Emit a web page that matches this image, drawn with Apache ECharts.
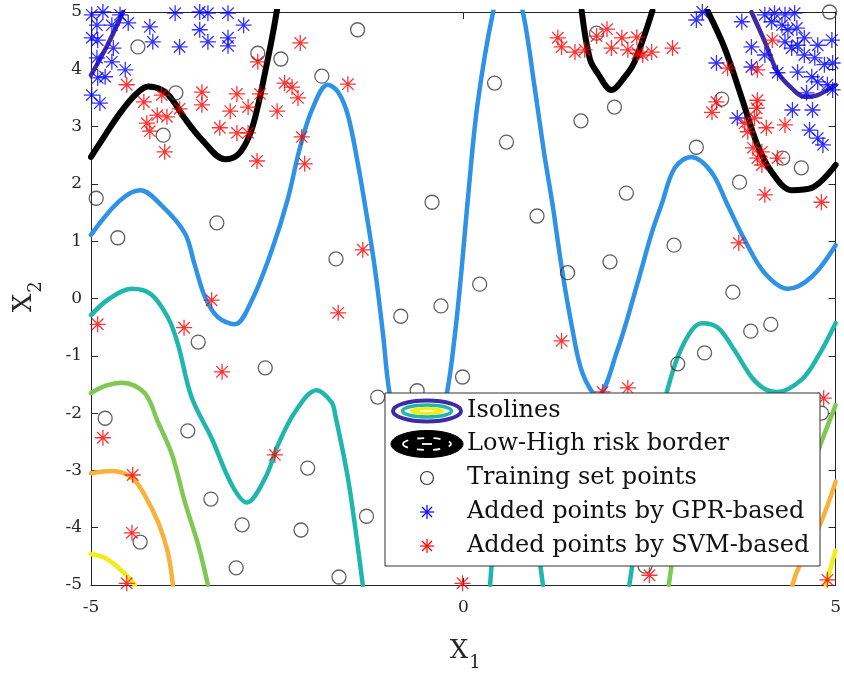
<!DOCTYPE html>
<html><head><meta charset="utf-8">
<script src="https://cdn.jsdelivr.net/npm/echarts@6/dist/echarts.min.js"></script>
<style>html,body{margin:0;padding:0;background:#fff}#c{width:844px;height:677px}</style>
</head><body><div id="c"></div>
<script>
// ---- axis settings ----
const xRange = [-5, 5];
const yRange = [-5, 5];
const xTickStep = 5;
const yTickStep = 1;

// ---- legend labels ----
const legendLabels = ['Isolines', 'Low-High risk border', 'Training set points',
  'Added points by GPR-based', 'Added points by SVM-based'];

// ---- isolines ----
const isoPurpleA = [[-5,3.90],[-4.78,4.42],[-4.57,5.0]];
const isoPurpleB = [[3.87,5.0],[4.05,4.48],[4.22,3.95],[4.41,3.67],[4.58,3.52],[4.76,3.55],[5.0,3.73]];
const borderA = [[-5,2.47],[-4.81,2.85],[-4.63,3.20],[-4.41,3.55],[-4.23,3.70],[-4.05,3.64],[-3.92,3.49],[-3.74,3.14],[-3.51,2.77],[-3.20,2.43],[-3.02,2.52],[-2.87,2.85],[-2.76,3.35],[-2.66,3.96],[-2.57,4.54],[-2.50,5.05]];
const borderB = [[1.59,5.02],[1.70,4.18],[1.81,3.92],[1.99,3.64],[2.17,3.87],[2.30,4.13],[2.54,5.02]];
const borderC = [[3.28,5.02],[3.51,4.37],[3.74,3.50],[3.95,2.68],[4.14,2.21],[4.41,1.89],[4.68,1.93],[5.0,2.33]];
const isoBlue = [[-5,1.11],[-4.62,1.70],[-4.34,1.89],[-4.05,1.62],[-3.74,1.14],[-3.61,0.60],[-3.47,0.03],[-3.30,-0.32],[-3.07,-0.45],[-2.84,-0.03],[-2.57,0.85],[-2.36,1.72],[-2.20,2.60],[-2.03,3.30],[-1.82,3.73],[-1.68,3.60],[-1.55,3.20],[-1.42,2.38],[-1.32,1.63],[-1.19,0.55],[-1.08,-0.60],[-0.99,-1.65],[-0.80,-2.7],[-0.60,-3.0],[-0.40,-2.6],[-0.22,-1.65],[-0.11,-0.60],[-0.02,0.55],[0.06,1.72],[0.19,3.38],[0.40,5.0],[0.60,5.9],[0.80,5.0],[0.96,3.67],[1.09,2.50],[1.20,1.63],[1.32,0.55],[1.46,-0.50],[1.60,-1.30],[1.80,-1.70],[2.07,-0.90],[2.34,0.27],[2.53,1.14],[2.66,1.63],[2.84,2.28],[3.06,2.47],[3.33,2.21],[3.55,1.63],[3.78,1.02],[4.05,0.44],[4.36,0.17],[4.68,0.38],[5.0,0.93]];
const isoTealA = [[-5,-0.29],[-4.75,0.0],[-4.45,0.17],[-4.19,0.07],[-3.96,-0.35],[-3.83,-0.81],[-3.65,-1.72],[-3.38,-2.44],[-3.11,-3.25],[-2.91,-3.56],[-2.66,-3.13],[-2.49,-2.56],[-2.26,-1.98],[-1.97,-1.60],[-1.77,-1.81],[-1.72,-2.03],[-1.55,-3.13],[-1.42,-4.30],[-1.35,-5.0]];
const isoTealB = [[0.36,-5.0],[0.48,-3.6],[0.70,-2.7],[0.90,-3.6],[1.07,-5.0]];
const isoTealC = [[2.23,-5.0],[2.40,-3.6],[2.58,-2.4],[2.73,-1.65],[2.88,-1.02],[3.07,-0.55],[3.21,-0.43],[3.42,-0.51],[3.64,-0.90],[3.87,-1.37],[4.05,-1.58],[4.22,-1.63],[4.54,-1.42],[4.76,-1.02],[5.0,-0.43]];
const isoGreenA = [[-5,-1.65],[-4.80,-1.52],[-4.58,-1.47],[-4.28,-1.65],[-4.10,-2.16],[-3.91,-2.73],[-3.74,-3.55],[-3.56,-4.30],[-3.43,-5.0]];
const isoGreenB = [[2.76,-5.0],[2.95,-3.7],[3.25,-2.9],[3.6,-3.2],[4.2,-3.9],[4.55,-3.4],[4.81,-2.50],[5.0,-1.86]];
const isoOrangeA = [[-5,-3.05],[-4.72,-3.01],[-4.45,-3.13],[-4.28,-3.43],[-4.10,-3.90],[-3.97,-4.42],[-3.90,-5.0]];
const isoOrangeB = [[4.42,-5.0],[4.49,-4.74],[4.79,-3.95],[5.0,-3.20]];
const isoYellowA = [[-5,-4.46],[-4.81,-4.53],[-4.64,-4.69],[-4.50,-4.86],[-4.41,-5.0]];
const isoYellowB = [[4.87,-5.0],[4.95,-4.62],[5.0,-4.40]];

// ---- training set points ----
const trainingPoints = [[-4.37,4.39],[-2.76,4.28],[-2.45,4.18],[-1.90,3.88],[-3.86,3.59],[-4.03,2.85],[-4.93,1.75],[-1.42,4.69],[0.42,3.76],[0.58,2.73],[1.58,3.10],[-0.42,1.68],[4.92,5.0],[1.79,4.63],[2.03,3.34],[3.47,3.48],[3.13,2.64],[4.29,2.45],[4.54,2.28],[3.71,2.03],[2.19,1.84],[-4.64,1.06],[-3.31,1.32],[-1.71,0.69],[-3.56,-0.76],[-2.66,-1.21],[0.99,1.44],[1.40,0.45],[0.22,0.25],[-0.30,-0.13],[-0.84,-0.31],[-0.01,-1.37],[-0.62,-1.61],[-1.15,-1.72],[1.97,0.64],[2.83,0.93],[3.62,0.11],[3.86,-0.57],[4.13,-0.45],[3.24,-0.95],[2.88,-1.14],[-4.81,-2.09],[-3.70,-2.31],[-2.09,-2.96],[-3.39,-3.50],[-2.97,-3.95],[-2.18,-4.04],[-4.34,-4.25],[-3.05,-4.70],[-1.67,-4.86],[-1.30,-3.80],[4.81,-2.00],[2.44,-4.67]];

// ---- added points, GPR-based ----
const gprPoints = [[-4.99,4.95],[-4.84,5.0],[-4.61,4.95],[-4.50,4.81],[-4.21,4.74],[-4.92,4.77],[-4.72,4.77],[-4.99,4.55],[-4.91,4.51],[-4.70,4.37],[-4.92,4.20],[-4.72,4.13],[-4.81,3.87],[-4.54,3.99],[-4.91,3.85],[-4.99,3.55],[-4.88,3.41],[-4.17,4.48],[-3.81,4.39],[-3.87,4.98],[-3.54,5.0],[-3.43,4.98],[-3.16,4.98],[-2.95,4.77],[-3.54,4.69],[-3.43,4.48],[-3.16,4.55],[-3.16,4.41],
  [3.21,5.0],[3.13,4.86],[3.74,4.83],[4.05,4.95],[4.18,4.98],[4.32,4.95],[4.45,4.98],[4.14,4.83],[4.28,4.77],[4.36,4.69],[4.48,4.72],[4.58,4.55],[4.76,4.42],[4.95,4.51],[3.87,4.39],[4.05,4.25],[4.32,4.48],[4.41,4.37],[4.49,4.42],[4.58,4.25],[4.72,4.20],[4.85,4.08],[4.96,4.11],[3.40,4.11],[3.87,4.04],[4.22,3.94],[4.49,3.95],[4.68,3.87],[4.76,3.78],[4.89,3.73],[4.96,3.64],[4.61,3.59],[4.42,3.29],[4.69,3.29],[3.68,3.15],[4.65,2.94],[4.76,2.80],[4.83,2.68]];

// ---- added points, SVM-based ----
const svmPoints = [[-2.19,4.46],[-2.76,4.13],[-4.52,3.73],[-4.29,3.43],[-4.05,3.55],[-3.81,3.31],[-4.11,3.20],[-3.98,3.17],[-4.25,3.06],[-4.21,2.92],[-3.51,3.60],[-3.51,3.38],[-3.04,3.57],[-3.13,3.27],[-2.89,3.34],[-2.73,3.57],[-3.27,2.98],[-3.04,2.89],[-2.89,2.89],[-4.01,2.56],[-2.77,2.40],[-2.50,3.27],[-2.40,3.76],[-2.30,3.69],[-2.22,3.50],[-2.17,2.82],[-2.13,2.35],[-1.55,3.74],
  [1.27,4.55],[1.32,4.39],[1.50,4.30],[1.63,4.34],[1.93,4.70],[1.79,4.58],[2.13,4.55],[2.33,4.56],[1.99,4.37],[2.21,4.34],[2.34,4.28],[2.41,4.25],[2.53,4.30],[2.81,4.37],[4.15,4.51],[3.55,4.02],[3.95,3.99],[3.40,3.43],[3.34,3.25],[3.95,3.46],[3.94,3.32],[3.91,3.15],[3.78,3.06],[3.82,2.91],[4.07,2.98],[4.32,3.03],[3.89,2.63],[4.01,2.56],[3.95,2.45],[4.01,2.33],[4.22,2.45],[4.05,1.81],[4.81,1.68],[3.70,0.97],[1.87,-1.63],[2.21,-1.56],
  [-3.38,-0.03],[-4.91,-0.45],[-3.75,-0.51],[-3.24,-1.28],[-1.68,-0.25],[-1.35,0.85],[1.32,-0.74],[-4.84,-2.43],[-4.44,-3.08],[-4.45,-4.09],[-4.52,-4.97],[-2.53,-2.73],[-0.01,-4.97],[4.84,-1.74],[2.50,-4.83],[4.89,-4.91]];

// ---- colours ----
const C = {purple:'#3e2aa6', blue:'#2e93e6', teal:'#1fb7ad', green:'#7fc852', orange:'#f8b23a', yellow:'#f1ec1a', black:'#000000'};
const FONT = 'DejaVu Serif';
const STAR = 'path://M7,0L7,14M0,7L14,7M2,2L12,12M2,12L12,2';

function iso(data, color, width) {
  return {type:'line', data:data, smooth:0.35, symbol:'none', showSymbol:false, clip:true, silent:true,
    lineStyle:{color:color, width:width, cap:'round', join:'round'}, z:2};
}

const chart = echarts.init(document.getElementById('c'), null, {renderer:'canvas'});
const axisCommon = {
  type:'value', splitLine:{show:false},
  axisLine:{show:true, onZero:false, lineStyle:{color:'#262626', width:1}},
  axisTick:{show:true, inside:true, length:7, lineStyle:{color:'#262626'}}
};
const legendY = [411, 444, 478, 512, 546];
const LX = 427, TX = 467;
function starIcon(cx, cy, color) {
  const r = 7, d = 5, out = [];
  [[0,-r,0,r],[-r,0,r,0],[-d,-d,d,d],[-d,d,d,-d]].forEach(function(s){
    out.push({type:'line', z:101, shape:{x1:cx+s[0], y1:cy+s[1], x2:cx+s[2], y2:cy+s[3]}, style:{stroke:color, lineWidth:1.2}});
  });
  return out;
}
let graphics = [
  {type:'rect', z:100, shape:{x:385, y:393, width:435, height:173}, style:{fill:'#fff', stroke:'#333', lineWidth:1}},
  {type:'ellipse', z:101, shape:{cx:LX, cy:legendY[0], rx:34, ry:10.5}, style:{fill:'none', stroke:C.purple, lineWidth:4}},
  {type:'ellipse', z:101, shape:{cx:LX, cy:legendY[0], rx:24.5, ry:6}, style:{fill:'none', stroke:C.teal, lineWidth:3.5}},
  {type:'ellipse', z:101, shape:{cx:LX, cy:legendY[0], rx:17, ry:3.6}, style:{fill:C.yellow, stroke:C.yellow, lineWidth:1}},
  {type:'line', z:102, shape:{x1:LX-7, y1:legendY[0], x2:LX+7, y2:legendY[0]}, style:{stroke:'#fff', lineWidth:1.5}},
  {type:'ellipse', z:101, shape:{cx:LX, cy:legendY[1], rx:36, ry:13.5}, style:{fill:'#000', stroke:'#000', lineWidth:1}},
  {type:'ellipse', z:102, shape:{cx:LX, cy:legendY[1], rx:24, ry:6}, style:{fill:'none', stroke:'#fff', lineWidth:1.8, lineDash:[7,9]}},
  {type:'line', z:102, shape:{x1:LX-5, y1:legendY[1], x2:LX+5, y2:legendY[1]}, style:{stroke:'#fff', lineWidth:1.8}},
  {type:'circle', z:101, shape:{cx:LX, cy:legendY[2], r:6.5}, style:{fill:'none', stroke:'#333', lineWidth:1.2}},
  // axis names
  {type:'text', z:100, x:459, y:651, style:{text:'X', fontFamily:FONT, fontSize:26, fill:'#262626', textAlign:'center', textVerticalAlign:'middle'}},
  {type:'text', z:100, x:475, y:663, style:{text:'1', fontFamily:FONT, fontSize:18, fill:'#262626', textAlign:'center', textVerticalAlign:'middle'}},
  {type:'text', z:100, x:24, y:303, rotation:Math.PI/2, style:{text:'X', fontFamily:FONT, fontSize:26, fill:'#262626', textAlign:'center', textVerticalAlign:'middle'}},
  {type:'text', z:100, x:36, y:287, rotation:Math.PI/2, style:{text:'2', fontFamily:FONT, fontSize:18, fill:'#262626', textAlign:'center', textVerticalAlign:'middle'}}
];
graphics = graphics.concat(starIcon(LX, legendY[3], '#0000ff'), starIcon(LX, legendY[4], '#ff0000'));
legendLabels.forEach(function(t, i){
  graphics.push({type:'text', z:101, x:TX, y:legendY[i], style:{text:t, fontFamily:FONT, fontSize:24, fill:'#111', textVerticalAlign:'middle'}});
});

chart.setOption({
  animation:false,
  backgroundColor:'#fff',
  grid:{left:91, top:12, width:745, height:573, containLabel:false},
  xAxis:[
    Object.assign({}, axisCommon, {position:'bottom', min:xRange[0], max:xRange[1], interval:xTickStep,
      axisLabel:{show:true, margin:14, fontSize:17, fontFamily:FONT, color:'#262626'}}),
    Object.assign({}, axisCommon, {position:'top', min:xRange[0], max:xRange[1], interval:xTickStep, axisLabel:{show:false}})
  ],
  yAxis:[
    Object.assign({}, axisCommon, {position:'left', min:yRange[0], max:yRange[1], interval:yTickStep,
      axisLabel:{show:true, margin:9, fontSize:17, fontFamily:FONT, color:'#262626'}}),
    Object.assign({}, axisCommon, {position:'right', min:yRange[0], max:yRange[1], interval:yTickStep, axisLabel:{show:false}})
  ],
  series:[
    iso(isoYellowA, C.yellow, 4.5), iso(isoYellowB, C.yellow, 4.5),
    iso(isoOrangeA, C.orange, 4.5), iso(isoOrangeB, C.orange, 4.5),
    iso(isoGreenA, C.green, 4.5), iso(isoGreenB, C.green, 4.5),
    iso(isoTealA, C.teal, 4.5), iso(isoTealB, C.teal, 4.5), iso(isoTealC, C.teal, 4.5),
    iso(isoBlue, C.blue, 4.5),
    iso(isoPurpleA, C.purple, 4.5), iso(isoPurpleB, C.purple, 4.5),
    iso(borderA, C.black, 6), iso(borderB, C.black, 6), iso(borderC, C.black, 6),
    {type:'scatter', data:trainingPoints, symbol:'circle', symbolSize:14, silent:true, z:5,
      itemStyle:{color:'rgba(0,0,0,0)', borderColor:'#3a3a3a', borderWidth:1.3}},
    {type:'scatter', data:gprPoints, symbol:STAR, symbolSize:16, silent:true, z:6,
      itemStyle:{color:'none', borderColor:'#0000ff', borderWidth:1.3}},
    {type:'scatter', data:svmPoints, symbol:STAR, symbolSize:16, silent:true, z:7,
      itemStyle:{color:'none', borderColor:'#ff0000', borderWidth:1.3}}
  ],
  graphic:graphics
});
</script></body></html>
